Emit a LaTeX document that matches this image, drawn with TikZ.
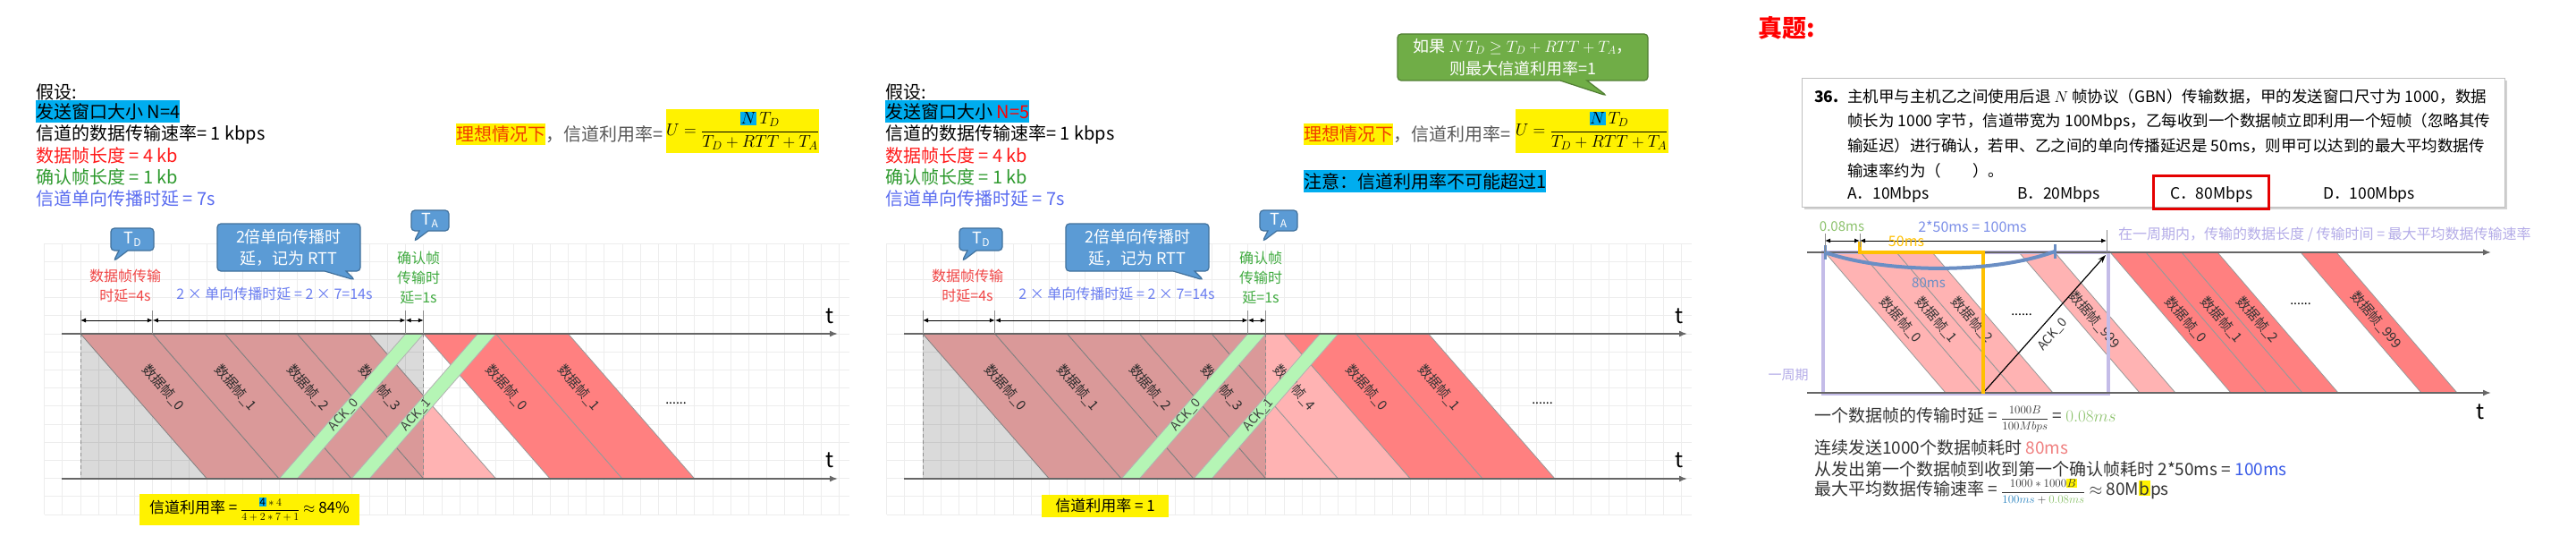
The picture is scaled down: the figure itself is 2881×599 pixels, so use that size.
\RequirePackage{fix-cm}
\documentclass[tikz,border=0pt]{standalone}
\usepackage{amsmath}
\usepackage{fontspec}
\setmainfont{Noto Sans CJK SC}
\usetikzlibrary{shapes.callouts,arrows.meta,shadows}
\definecolor{pinkF}{HTML}{FFB3B3}
\definecolor{redF}{HTML}{FF8080}
\definecolor{ackG}{HTML}{B5F5B5}
\definecolor{callB}{HTML}{5B9BD5}
\definecolor{callBD}{HTML}{41719C}
\definecolor{cG}{HTML}{70AD47}
\definecolor{cGD}{HTML}{507E32}
\definecolor{tRed}{HTML}{FF1A1A}
\definecolor{tGreen}{HTML}{2E9A2E}
\definecolor{tBlue}{HTML}{5A6CF0}
\definecolor{lRed}{HTML}{F04545}
\definecolor{lBlue}{HTML}{6A7DF0}
\definecolor{lGreen}{HTML}{3FAA3F}
\definecolor{orRed}{HTML}{F03C00}
\definecolor{lav}{HTML}{C4BCE8}
\definecolor{lavT}{HTML}{B4ACE8}
\definecolor{yel}{HTML}{FFC000}
\definecolor{steel}{HTML}{6A8EC4}
\definecolor{gT}{HTML}{8CC26C}
\definecolor{bT}{HTML}{3A5CE8}
\definecolor{bD}{HTML}{2E86C1}
\definecolor{coralT}{HTML}{F08080}
\definecolor{perT}{HTML}{7C8FE8}
\newcommand{\FS}[2]{\fontsize{#1}{#2}\selectfont}
\newcommand{\hl}[2]{{\setlength{\fboxsep}{0.6pt}\colorbox{#1}{#2}}}
\tikzset{
  txt/.style={inner sep=0pt, anchor=west, font=\FS{20}{24}},
  gridl/.style={draw=black!7, line width=0.8pt},
  axisl/.style={draw=black!60, line width=1.6pt, -{Latex[length=9pt,width=7pt]}},
  diml/.style={draw=black, line width=1pt, {Latex[length=6pt,width=5pt]}-{Latex[length=6pt,width=5pt]}},
  tickl/.style={draw=black!45, line width=1pt},
  dashl/.style={draw=black!45, line width=0.8pt, dash pattern=on 4pt off 3pt},
  pinkfr/.style={fill=pinkF, draw=black!40, line width=0.8pt},
  redfr/.style={fill=redF, draw=black!40, line width=0.8pt},
  ackfr/.style={fill=ackG, draw=black!30, line width=0.8pt},
  flabel/.style={font=\FS{15}{15}, inner sep=0pt, text=black!80},
  alabel/.style={font=\FS{14}{14}, inner sep=0pt, text=black!75},
  callb/.style={rectangle callout, fill=callB, draw=callBD, line width=1.2pt, rounded corners=4pt, text=white, align=center, inner sep=0pt},
  tletter/.style={font=\FS{24}{24}, inner sep=0pt},
  dotsn/.style={font=\FS{14}{14}, inner sep=0pt},
}
% #1 prefix, #2 origin x, #3 pink frame times, #4 red frame times, #5 axis end x
\newcommand{\gbnpanel}[5]{%
  \foreach \k in {-2,...,42} \draw[gridl] ({#2+\k*20.2},272) -- ({#2+\k*20.2},575);
  \foreach \k in {-5,...,10} \draw[gridl] ({#2-40},{373+\k*20.2}) -- ({#2+860},{373+\k*20.2});
  \foreach \t [count=\i from 0] in {#3} {
    \filldraw[pinkfr] ({#2+\t*20.2},373) -- ({#2+(\t+4)*20.2},373) -- ({#2+(\t+11)*20.2},535) -- ({#2+(\t+7)*20.2},535) -- cycle;
    \node[flabel, rotate=-48.9] (#1f\i) at ({#2+(\t+4.59)*20.2},433) {数据帧\_\i};
  }
  \fill[black, opacity=0.145] (#2,373) rectangle ({#2+19*20.2},535);
  \foreach \t [count=\i from 0] in {#4} {
    \filldraw[redfr] ({#2+\t*20.2},373) -- ({#2+(\t+4)*20.2},373) -- ({#2+(\t+11)*20.2},535) -- ({#2+(\t+7)*20.2},535) -- cycle;
    \node[flabel, rotate=-48.9] (#1r\i) at ({#2+(\t+4.59)*20.2},433) {数据帧\_\i};
  }
  \foreach \b [count=\i from 0] in {11,15} {
    \filldraw[ackfr] ({#2+\b*20.2},535) -- ({#2+(\b+1)*20.2},535) -- ({#2+(\b+8)*20.2},373) -- ({#2+(\b+7)*20.2},373) -- cycle;
    \node[alabel, rotate=48.9] (#1k\i) at ({#2+(\b+3.58)*20.2},463.7) {ACK\_\i};
  }
  \draw[dashl] (#2,373) -- (#2,535);
  \draw[dashl] ({#2+19*20.2},373) -- ({#2+19*20.2},535);
  \coordinate (#1ta) at ({#2-21},373);
  \coordinate (#1tb) at (#5,373);
  \coordinate (#1ba) at ({#2-21},535);
  \coordinate (#1bb) at (#5,535);
  \draw[axisl] (#1ta) -- (#1tb);
  \draw[axisl] (#1ba) -- (#1bb);
  \node[tletter] (#1tt) at ({#5-9},353) {t};
  \node[tletter] (#1bt) at ({#5-9},514) {t};
  \coordinate (#1d0) at (#2,358);
  \coordinate (#1d1) at ({#2+4*20.2},358);
  \coordinate (#1d2) at ({#2+18*20.2},358);
  \coordinate (#1d3) at ({#2+19*20.2},358);
  \foreach \x in {0,4,18,19} \draw[tickl] ({#2+\x*20.2},347) -- ({#2+\x*20.2},373);
  \draw[diml] (#1d0) -- (#1d1);
  \draw[diml] (#1d1) -- (#1d2);
  \draw[diml] (#1d2) -- (#1d3);
  \node[font=\FS{16}{22}, text=lRed, align=center, inner sep=0pt] (#1lr) at ({#2+50},319) {数据帧传输\\时延=4s};
  \node[font=\FS{16}{22}, text=lBlue, inner sep=0pt] (#1lb) at ({#2+217},328) {2 × 单向传播时延 = 2 × 7=14s};
  \node[font=\FS{16}{22}, text=lGreen, align=center, inner sep=0pt] (#1lg) at ({#2+378},310) {确认帧\\传输时\\延=1s};
}
\begin{document}
\begin{tikzpicture}[x=1pt,y=-1pt]
\path[use as bounding box, fill=white] (0,0) rectangle (2881,599);

% ================= Panel 1 =================
\gbnpanel{pa}{90}{0,4,8,12}{19,23}{937}
\node[dotsn] (padots) at (756,451) {......};

\node[callb, minimum width=48pt, minimum height=25pt, callout absolute pointer={(127,292)}, callout pointer width=10pt, font=\FS{18}{18}] (paCD) at (148,267.5) {T\raisebox{-3pt}{\FS{12}{12}D}};
\node[callb, minimum width=160pt, minimum height=53pt, callout absolute pointer={(397,313)}, callout pointer width=24pt, font=\FS{18}{24}] (paCR) at (323,276.5) {2倍单向传播时\\延，记为 RTT};
\node[callb, minimum width=42pt, minimum height=23pt, callout absolute pointer={(463,270)}, callout pointer width=10pt, font=\FS{18}{18}] (paCA) at (481,246.5) {T\raisebox{-3pt}{\FS{12}{12}A}};

\node[txt] (pa1) at (40,103) {假设:};
\node[txt, fill=cyan, minimum height=25pt] (pa2) at (40,125) {发送窗口大小 N=4};
\node[txt] (pa3) at (40,150) {信道的数据传输速率= 1 kbps};
\node[txt, text=tRed] (pa4) at (40,174) {数据帧长度 = 4 kb};
\node[txt, text=tGreen] (pa5) at (40,198) {确认帧长度 = 1 kb};
\node[txt, text=tBlue] (pa6) at (40,222) {信道单向传播时延 = 7s};

\node[txt, fill=yellow, text=orRed, minimum height=24pt] (pau0) at (510,150) {理想情况下};
\node[txt, text=black!65] (pau1) at (pau0.east) {，信道利用率=};
\node[fill=yellow, minimum width=171pt, minimum height=49pt, inner sep=0pt, font=\FS{19}{19}] (pau2) at (830.5,146.5) {$U = \dfrac{\hl{cyan}{$N$}\,T_D}{T_D + RTT + T_A}$};

\node[fill=yellow, minimum width=246pt, minimum height=35pt, inner sep=0pt, font=\FS{17}{17}] (paU) at (279,569.5) {信道利用率 = {\FS{12}{12}$\dfrac{\hl{cyan}{4}*4}{4+2*7+1}$} $\approx$ 84\%};

% ================= Panel 2 =================
\gbnpanel{pb}{1032}{0,4,8,12,16}{20,24}{1887}
\node[dotsn] (pbdots) at (1725,451) {......};

\node[callb, minimum width=48pt, minimum height=25pt, callout absolute pointer={(1076,292)}, callout pointer width=10pt, font=\FS{18}{18}] (pbCD) at (1097,267.5) {T\raisebox{-3pt}{\FS{12}{12}D}};
\node[callb, minimum width=160pt, minimum height=53pt, callout absolute pointer={(1346,313)}, callout pointer width=24pt, font=\FS{18}{24}] (pbCR) at (1272,276.5) {2倍单向传播时\\延，记为 RTT};
\node[callb, minimum width=42pt, minimum height=23pt, callout absolute pointer={(1412,270)}, callout pointer width=10pt, font=\FS{18}{18}] (pbCA) at (1430,246.5) {T\raisebox{-3pt}{\FS{12}{12}A}};
\node[callb, fill=cG, draw=cGD, minimum width=280pt, minimum height=52pt, callout absolute pointer={(1797,107)}, callout pointer width=30pt, font=\FS{18}{25}] (pbCG) at (1703,64) {如果 $N\,T_D \geq T_D + RTT + T_A$，\\则最大信道利用率=1};

\node[txt] (pb1) at (990,103) {假设:};
\node[txt, fill=cyan, minimum height=25pt] (pb2) at (990,125) {发送窗口大小 \textcolor{red}{N=5}};
\node[txt] (pb3) at (990,150) {信道的数据传输速率= 1 kbps};
\node[txt, text=tRed] (pb4) at (990,174) {数据帧长度 = 4 kb};
\node[txt, text=tGreen] (pb5) at (990,198) {确认帧长度 = 1 kb};
\node[txt, text=tBlue] (pb6) at (990,222) {信道单向传播时延 = 7s};

\node[txt, fill=yellow, text=orRed, minimum height=24pt] (pbu0) at (1458,150) {理想情况下};
\node[txt, text=black!65] (pbu1) at (pbu0.east) {，信道利用率=};
\node[fill=yellow, minimum width=171pt, minimum height=49pt, inner sep=0pt, font=\FS{19}{19}] (pbu2) at (1780,146.5) {$U = \dfrac{\hl{cyan}{$N$}\,T_D}{T_D + RTT + T_A}$};
\node[txt, fill=cyan, minimum height=25pt] (pbu3) at (1458,202.5) {注意：信道利用率不可能超过1};

\node[fill=yellow, minimum width=142pt, minimum height=25pt, inner sep=0pt, font=\FS{17}{17}] (pbU) at (1236,565) {信道利用率 = 1};

% ================= Panel 3 =================
\node[font=\FS{27}{27}\bfseries, text=red, inner sep=0pt] (zt) at (1998,31) {真题:};
\node[draw=black!25, fill=white, drop shadow={shadow xshift=3pt, shadow yshift=-3pt, opacity=0.35}, minimum width=786pt, minimum height=144pt, inner sep=0pt] (qbox) at (2408,159) {};
\node[txt, font=\FS{17.5}{17.5}\bfseries] (q0) at (2029,108) {36.};
\node[txt, font=\FS{17.5}{17.5}] (q1) at (2066,108) {主机甲与主机乙之间使用后退 $N$ 帧协议（GBN）传输数据，甲的发送窗口尺寸为 1000，数据};
\node[txt, font=\FS{17.5}{17.5}] (q2) at (2066,136) {帧长为 1000 字节，信道带宽为 100Mbps，乙每收到一个数据帧立即利用一个短帧（忽略其传};
\node[txt, font=\FS{17.5}{17.5}] (q3) at (2066,163) {输延迟）进行确认，若甲、乙之间的单向传播延迟是 50ms，则甲可以达到的最大平均数据传};
\node[txt, font=\FS{17.5}{17.5}] (q4) at (2066,191) {输速率约为（\quad\quad）。};
\node[txt, font=\FS{17.5}{17.5}] (qa) at (2066,218) {A．10Mbps};
\node[txt, font=\FS{17.5}{17.5}] (qb) at (2256,218) {B．20Mbps};
\node[txt, font=\FS{17.5}{17.5}] (qc) at (2427,218) {C．80Mbps};
\node[txt, font=\FS{17.5}{17.5}] (qd) at (2598,218) {D．100Mbps};
\node[draw=red!90!black, line width=3pt, minimum width=129pt, minimum height=37pt, inner sep=0pt] (qcbox) at (2472.5,214.5) {};

% frames
\foreach \x [count=\i from 0] in {2041,2081,2121} {
  \filldraw[pinkfr] (\x,282) -- (\x+40,282) -- (\x+175,439) -- (\x+135,439) -- cycle;
  \node[flabel, rotate=-49.3] (zpf\i) at (\x+84.8,357.4) {数据帧\_\i};
}
\filldraw[pinkfr] (2258,282) -- (2298,282) -- (2433,439) -- (2393,439) -- cycle;
\node[flabel, rotate=-49.3] (zpf999) at (2342.8,357.4) {数据帧\_999};
\foreach \x [count=\i from 0] in {2360,2400,2440} {
  \filldraw[redfr] (\x,282) -- (\x+40,282) -- (\x+175,439) -- (\x+135,439) -- cycle;
  \node[flabel, rotate=-49.3] (zrf\i) at (\x+84.8,357.4) {数据帧\_\i};
}
\filldraw[redfr] (2573,282) -- (2613,282) -- (2748,439) -- (2708,439) -- cycle;
\node[flabel, rotate=-49.3] (zrf999) at (2657.8,357.4) {数据帧\_999};
\node[dotsn] (zdots1) at (2261,352) {......};
\node[dotsn] (zdots2) at (2573,340) {......};

% ACK arrow
\coordinate (zackS) at (2218,439);
\coordinate (zackE) at (2355,285);
\draw[black, line width=1.2pt, -{Stealth[length=9pt,width=6pt]}] (zackS) -- (zackE);
\node[alabel, rotate=48.6, text=black!80] (zackL) at (2296,374) {ACK\_0};

% lavender period box
\draw[lav, line width=4pt] (2039,282) rectangle (2358,440);
\node[font=\FS{15}{15}, text=lavT, inner sep=0pt] (zper) at (2000,419) {一周期};

% axes
\coordinate (zta) at (2021,282);
\coordinate (ztb) at (2786,282);
\coordinate (zba) at (2021,439);
\coordinate (zbb) at (2786,439);
\draw[axisl] (zta) -- (ztb);
\draw[axisl] (zba) -- (zbb);
\node[tletter] (ztt) at (2774,460) {t};

% yellow bracket
\draw[yel, line width=3.5pt] (2080,270) -- (2080,282) -- (2218,282) -- (2218,440);
% blue arc
\draw[steel, line width=4pt] (2041,282) .. controls (2110,306) and (2230,306) .. (2298,281);
\draw[steel, line width=3pt] (2041,274) -- (2041,290);
\draw[steel, line width=3pt] (2298,273) -- (2298,289);
\node[font=\FS{15}{15}, text=steel, inner sep=0pt] (z80) at (2157,316) {80ms};

% dimension arrows
\coordinate (zd0) at (2041,269);
\coordinate (zd1) at (2080,269);
\coordinate (zd2) at (2356,269);
\draw[tickl] (2041,261) -- (2041,282);
\draw[tickl] (2080,261) -- (2080,276);
\draw[tickl] (2356,257) -- (2356,282);
\draw[diml] (zd0) -- (zd1);
\draw[diml] (zd1) -- (zd2);
\node[font=\FS{15}{15}, text=gT, inner sep=0pt] (zl008) at (2060,253) {0.08ms};
\node[font=\FS{16}{16}, text=perT, inner sep=0pt] (zl100) at (2206,253) {2*50ms = 100ms};
\node[font=\FS{16}{16}, text=yel, inner sep=0pt] (zl50) at (2132,270) {50ms};
\node[txt, font=\FS{16}{16}, text=lavT] (zlper) at (2369,262) {在一周期内，传输的数据长度 / 传输时间 = 最大平均数据传输速率};

% bottom text
\node[txt, font=\FS{19}{19}, text=black!80] (zb1) at (2029,468) {一个数据帧的传输时延 = {\FS{13}{13}$\dfrac{1000B}{100Mbps}$} = \textcolor{gT}{$0.08ms$}};
\node[txt, font=\FS{19}{19}, text=black!80] (zb2) at (2029,500) {连续发送1000个数据帧耗时 \textcolor{coralT}{80ms}};
\node[txt, font=\FS{19}{19}, text=black!80] (zb3) at (2029,524) {从发出第一个数据帧到收到第一个确认帧耗时 2*50ms = \textcolor{bT}{100ms}};
\node[txt, font=\FS{19}{19}, text=black!80] (zb4) at (2029,549) {最大平均数据传输速率 = {\FS{13}{13}$\dfrac{1000*1000\hl{yellow}{$B$}}{\textcolor{bD}{100ms}+\textcolor{gT}{0.08ms}}$} $\approx$ 80M\hl{yellow}{b}ps};
\end{tikzpicture}
\end{document}
